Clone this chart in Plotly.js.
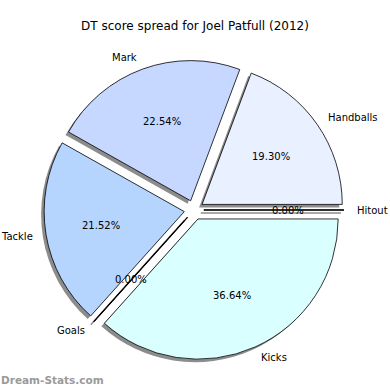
<!DOCTYPE html>
<html><head><meta charset="utf-8">
<script src="https://cdn.plot.ly/plotly-3.0.1.min.js"></script>
<style>html,body{margin:0;padding:0;background:#fff;}#chart{width:390px;height:390px;}</style>
</head><body><div id="chart"></div>
<script>
const categories = ["Hitout", "Handballs", "Mark", "Tackle", "Goals", "Kicks"];
const shares = [0.00, 19.30, 22.54, 21.52, 0.00, 36.64];
const sliceColors = ["#f0f0ff", "#e9f0ff", "#c6d8ff", "#b5d5ff", "#c0e8ff", "#d9ffff"];
const titleText = "DT score spread for Joel Patfull (2012)";
const watermark = "Dream-Stats.com";

const W = 390, H = 390;
const cx = 194, cy = 210, half = 150;
const pullFrac = 0.07, labelDist = 1.085, pctDist = 0.6;
const r = half / (1 + pullFrac);
const dom = (h, dx, dy) => ({
  x: [(cx - h + dx) / W, (cx + h + dx) / W],
  y: [1 - (cy + h + dy) / H, 1 - (cy - h + dy) / H]
});
const font = {family: "DejaVu Sans", size: 10, color: "#000"};
const common = {
  type: "pie", labels: categories, values: shares, sort: false,
  direction: "counterclockwise", rotation: 90, textinfo: "none",
  hoverinfo: "none", showlegend: false, pull: categories.map(() => pullFrac)
};
const shadow = Object.assign({}, common, {
  domain: dom(half, -3, 3),
  marker: {colors: categories.map(() => "rgba(0,0,0,0.45)"), line: {width: 0}}
});
const main = Object.assign({}, common, {
  domain: dom(half, 0, 0),
  marker: {colors: sliceColors, line: {color: "#000", width: 0.8}}
});

const total = shares.reduce((a, b) => a + b, 0);
const px = (x) => x / W, py = (y) => 1 - y / H;
const notes = [], shapes = [];
let cum = 0;
shares.forEach((v, i) => {
  const a0 = cum / total * 2 * Math.PI;
  const mid = (cum + v / 2) / total * 2 * Math.PI;
  cum += v;
  const c = Math.cos(mid), s = Math.sin(mid);
  const ox = cx + pullFrac * r * c, oy = cy - pullFrac * r * s;
  notes.push({text: (v / total * 100).toFixed(2) + "%", xref: "paper", yref: "paper",
    x: px(ox + pctDist * r * c), y: py(oy - pctDist * r * s),
    xanchor: "center", yanchor: "middle", showarrow: false, font: font, borderpad: 0});
  notes.push({text: categories[i], xref: "paper", yref: "paper",
    x: px(ox + labelDist * r * c), y: py(oy - labelDist * r * s),
    xanchor: c > 0 ? "left" : "right", yanchor: "middle", showarrow: false, font: font, borderpad: 0});
  if (v === 0) {
    const ex = ox + r * Math.cos(a0), ey = oy - r * Math.sin(a0);
    shapes.push({type: "line", xref: "paper", yref: "paper", x0: px(ox - 3), y0: py(oy + 3), x1: px(ex - 3), y1: py(ey + 3),
      line: {color: "rgba(0,0,0,0.45)", width: 1.5}, layer: "below"});
    shapes.push({type: "line", xref: "paper", yref: "paper", x0: px(ox), y0: py(oy), x1: px(ex), y1: py(ey),
      line: {color: "#000", width: 1.2}});
  }
});
notes.push({text: watermark, xref: "paper", yref: "paper", x: 0, y: 1 - 380 / H, xanchor: "left", yanchor: "middle", showarrow: false,
  font: {family: "DejaVu Sans", size: 10.5, color: "#9a9a9a", weight: "bold"}, borderpad: 0});

Plotly.newPlot("chart", [shadow, main], {
  width: W, height: H, margin: {l: 0, r: 0, t: 0, b: 0},
  paper_bgcolor: "#fff",
  title: {text: titleText, font: {family: "DejaVu Sans", size: 12, color: "#000"}, x: 0.5, xanchor: "center", y: 1 - 26 / H, yanchor: "middle"},
  annotations: notes, shapes: shapes
}, {staticPlot: true});
</script></body></html>
